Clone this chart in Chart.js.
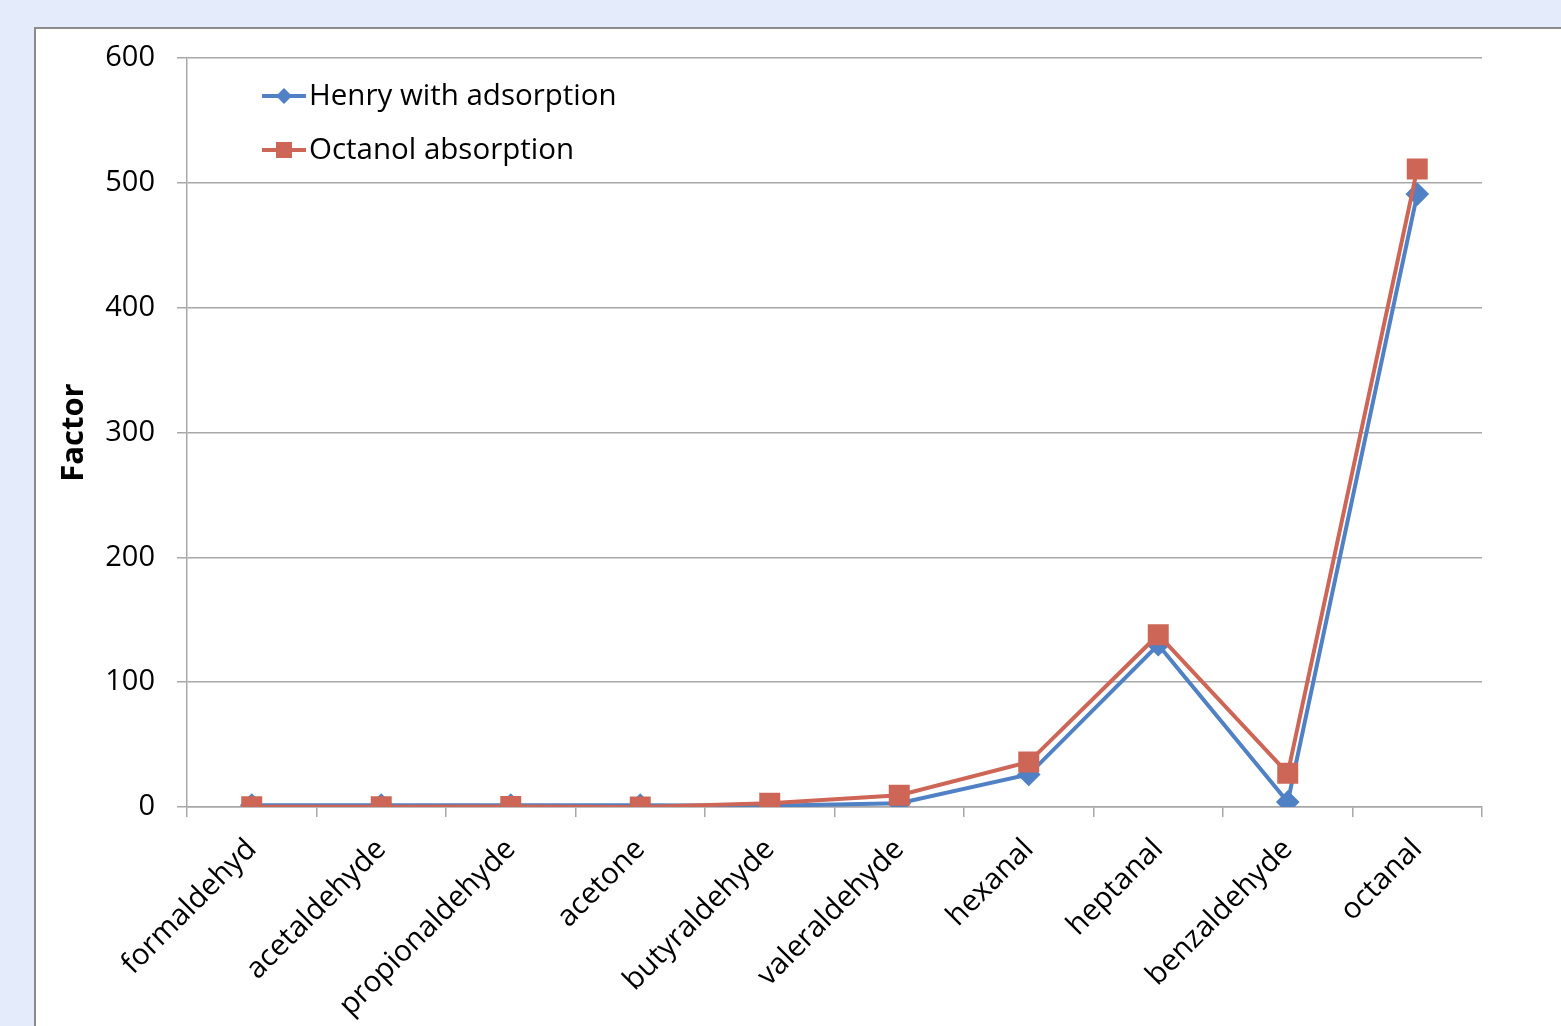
<!DOCTYPE html>
<html>
<head>
<meta charset="utf-8">
<title>Factor</title>
<script src="https://cdn.jsdelivr.net/npm/chart.js@4/dist/chart.umd.min.js"></script>
<style>
  html, body { margin: 0; padding: 0; background: #e4ebfa; overflow: hidden; }
  .panel { position: absolute; left: 34px; top: 27px; width: 1600px; height: 1100px; background: #fff; border: 2px solid #8c8c8c; }
  #factorChart { position: absolute; left: 0; top: 0; }
</style>
</head>
<body>
<div class="panel"></div>
<canvas id="factorChart" width="1561" height="1026"></canvas>
<script>
// Compuestos en el eje X
const categories = ['formaldehyd', 'acetaldehyde', 'propionaldehyde', 'acetone', 'butyraldehyde',
                    'valeraldehyde', 'hexanal', 'heptanal', 'benzaldehyde', 'octanal'];

// Valores de cada serie
const henryValues = [1.5, 1.5, 1.5, 1.5, 1, 3, 26, 130, 4, 491];
const octanolValues = [0.3, 0.3, 0.5, 0.1, 3, 9.5, 36, 138, 27, 511];

// Marcas del eje Y
const yTicks = [0, 100, 200, 300, 400, 500, 600];

const FONT = '"Open Sans", sans-serif';
const BLUE = '#4f81c4';
const RED = '#cd6656';
const GRID = '#a8a8a8';

// Leyenda dibujada dentro del área del gráfico, arriba a la izquierda
const insideLegend = {
    id: 'insideLegend',
    afterDatasetsDraw(chart) {
        const ctx = chart.ctx;
        const x0 = chart.chartArea.left + 75;
        let y = chart.chartArea.top + 38;
        chart.data.datasets.forEach(ds => {
            ctx.save();
            ctx.strokeStyle = ds.borderColor;
            ctx.lineWidth = 4;
            ctx.beginPath();
            ctx.moveTo(x0, y);
            ctx.lineTo(x0 + 44, y);
            ctx.stroke();
            ctx.fillStyle = ds.pointBackgroundColor;
            const cx = x0 + 22;
            if (ds.pointStyle === 'rect') {
                ctx.fillRect(cx - 8, y - 8, 16, 16);
            } else {
                ctx.beginPath();
                ctx.moveTo(cx, y - 8);
                ctx.lineTo(cx + 8, y);
                ctx.lineTo(cx, y + 8);
                ctx.lineTo(cx - 8, y);
                ctx.closePath();
                ctx.fill();
            }
            ctx.fillStyle = '#000';
            ctx.font = '29.5px ' + FONT;
            ctx.textBaseline = 'middle';
            ctx.textAlign = 'left';
            ctx.fillText(ds.label, x0 + 47, y + 1);
            ctx.restore();
            y += 54;
        });
    }
};

const ctx = document.getElementById('factorChart').getContext('2d');
const chart = new Chart(ctx, {
    type: 'line',
    data: {
        labels: categories,
        datasets: [{
            label: 'Henry with adsorption',
            data: henryValues,
            borderColor: BLUE,
            backgroundColor: BLUE,
            pointBackgroundColor: BLUE,
            pointBorderColor: BLUE,
            pointStyle: 'rectRot',
            pointRadius: 9,
            borderWidth: 4,
            order: 2
        }, {
            label: 'Octanol absorption',
            data: octanolValues,
            borderColor: RED,
            backgroundColor: RED,
            pointBackgroundColor: RED,
            pointBorderColor: RED,
            pointStyle: 'rect',
            pointRadius: 12,
            borderWidth: 4,
            order: 1
        }]
    },
    options: {
        responsive: false,
        animation: false,
        layout: { padding: { left: 0, right: 79, top: 58, bottom: 0 } },
        plugins: {
            legend: { display: false },
            tooltip: { enabled: false }
        },
        scales: {
            x: {
                offset: true,
                grid: { offset: true, drawOnChartArea: false, drawTicks: true, tickLength: 10, color: GRID, lineWidth: 1.5 },
                border: { color: GRID, width: 1.5 },
                ticks: {
                    minRotation: 45, maxRotation: 45, padding: 15,
                    color: '#000', font: { family: FONT, size: 29.5 }
                },
                afterFit: scale => { scale.height = 219; }
            },
            y: {
                min: 0,
                max: 600,
                afterBuildTicks: scale => { scale.ticks = yTicks.map(v => ({ value: v })); },
                grid: { color: GRID, lineWidth: 1.5, tickLength: 10 },
                border: { color: GRID, width: 1.5 },
                ticks: { padding: 22, color: '#000', font: { family: FONT, size: 29 } },
                title: {
                    display: true, text: 'Factor', color: '#000',
                    font: { family: FONT, size: 31, weight: 'bold' },
                    padding: { top: 56, bottom: 0 }
                },
                afterFit: scale => { scale.width = 187; }
            }
        }
    },
    plugins: [insideLegend]
});
</script>
</body>
</html>
